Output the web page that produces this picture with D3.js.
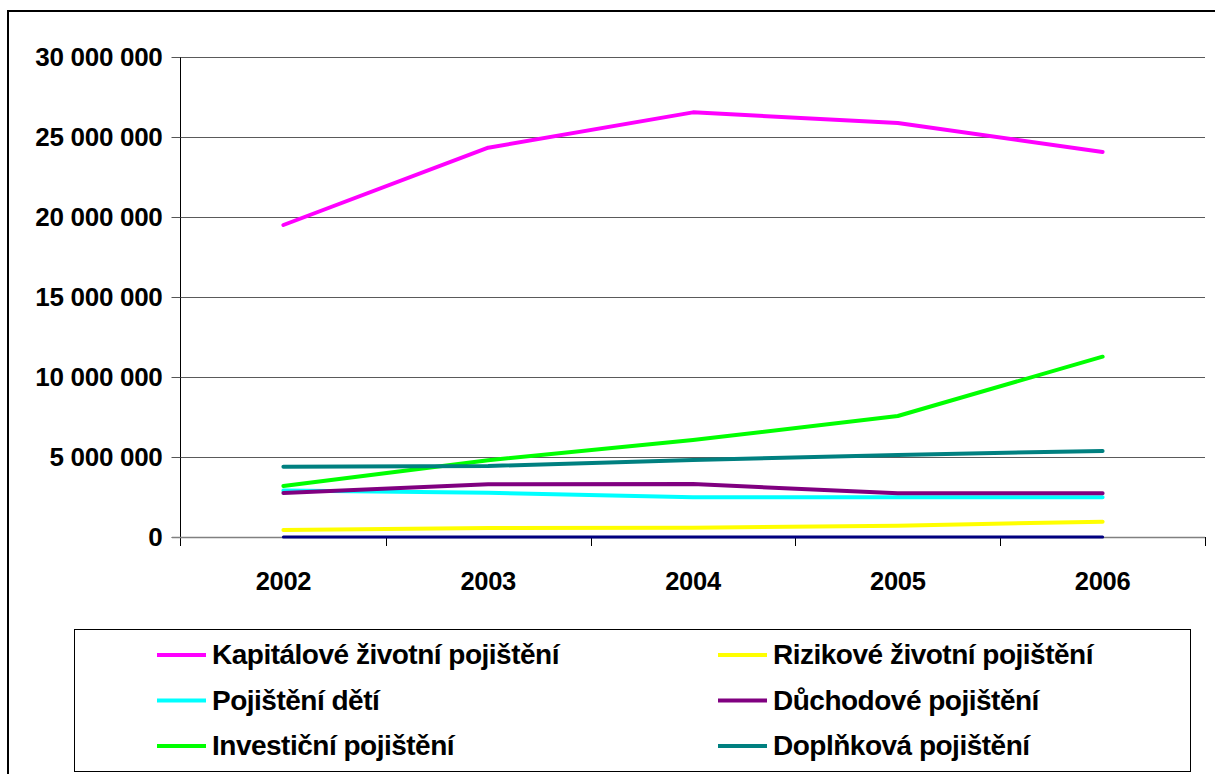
<!DOCTYPE html>
<html>
<head>
<meta charset="utf-8">
<script src="https://cdn.jsdelivr.net/npm/d3@7"></script>
<style>
  html, body { margin: 0; padding: 0; background: #fff; }
  svg { display: block; }
  text { font-family: "Liberation Sans", Arial, sans-serif; font-weight: bold; fill: #000; }
</style>
</head>
<body>
<svg id="chart" width="1215" height="774"></svg>
<script>
const years = ["2002", "2003", "2004", "2005", "2006"];
const seriesNames = [
  "Kapitálové životní pojištění",
  "Rizikové životní pojištění",
  "Pojištění dětí",
  "Důchodové pojištění",
  "Investiční pojištění",
  "Doplňková pojištění",
  ""
];
const kapitalove = [19500000, 24330000, 26540000, 25870000, 24060000];
const rizikove   = [440000, 560000, 580000, 710000, 960000];
const deti       = [2900000, 2770000, 2480000, 2480000, 2480000];
const duchodove  = [2750000, 3300000, 3310000, 2730000, 2730000];
const investicni = [3190000, 4800000, 6060000, 7560000, 11270000];
const doplnkova  = [4390000, 4440000, 4810000, 5130000, 5380000];
const ostatni    = [0, 0, 0, 0, 0];
const seriesColors = ["#FF00FF", "#FFFF00", "#00FFFF", "#800080", "#00FF00", "#008080", "#000080"];
const yTicks = [0, 5000000, 10000000, 15000000, 20000000, 25000000, 30000000];

const seriesValues = [kapitalove, rizikove, deti, duchodove, investicni, doplnkova, ostatni];

const svg = d3.select("#chart");

// outer chart frame
svg.append("rect")
  .attr("x", 8).attr("y", 11)
  .attr("width", 1400).attr("height", 1000)
  .attr("fill", "none").attr("stroke", "#000").attr("stroke-width", 2);

const x = d3.scaleBand().domain(years).range([181, 1205]).padding(0);
const y = d3.scaleLinear().domain([0, 30000000]).range([537, 57]);
const fmt = v => d3.format(",")(v).replace(/,/g, " ");

// gridlines
svg.append("g").selectAll("line")
  .data(yTicks.filter(d => d > 0))
  .join("line")
  .attr("x1", 181).attr("x2", 1205)
  .attr("y1", d => Math.round(y(d)) + 0.5).attr("y2", d => Math.round(y(d)) + 0.5)
  .attr("stroke", "#5a5a5a").attr("stroke-width", 1);

// y axis
const yAxis = d3.axisLeft(y).tickValues(yTicks).tickFormat(fmt).tickSizeInner(9).tickSizeOuter(0).tickPadding(9);
const gy = svg.append("g").attr("transform", "translate(180.5,0)").call(yAxis);
gy.select(".domain").attr("stroke", "#000").attr("d", "M0,57V546");
gy.selectAll(".tick line").attr("stroke", "#555");
gy.selectAll("text").style("font-size", "26px").style("font-family", "'Liberation Sans', Arial, sans-serif").style("font-weight", "bold").style("letter-spacing", "-0.3px").attr("fill", "#000");

// x axis baseline
svg.append("line")
  .attr("x1", 172).attr("x2", 1205)
  .attr("y1", y(0) + 0.5).attr("y2", y(0) + 0.5)
  .attr("stroke", "#808080").attr("stroke-width", 1.5);

// x axis ticks at category boundaries
const boundaries = years.map(d => x(d)).concat([x(years[years.length - 1]) + x.bandwidth()]).slice(1);
svg.append("g").selectAll("line")
  .data(boundaries)
  .join("line")
  .attr("x1", d => Math.round(d) + 0.5).attr("x2", d => Math.round(d) + 0.5)
  .attr("y1", y(0)).attr("y2", y(0) + 9)
  .attr("stroke", "#000").attr("stroke-width", 1);

// x labels
svg.append("g").selectAll("text")
  .data(years)
  .join("text")
  .attr("x", d => x(d) + x.bandwidth() / 2)
  .attr("y", 590)
  .attr("text-anchor", "middle")
  .style("font-size", "25.5px")
  .style("letter-spacing", "-0.3px")
  .text(d => d);

// lines
const line = d3.line()
  .x((d, i) => x(years[i]) + x.bandwidth() / 2)
  .y(d => y(d));

svg.append("g").selectAll("path")
  .data(seriesValues)
  .join("path")
  .attr("d", d => line(d))
  .attr("fill", "none")
  .attr("stroke", (d, i) => seriesColors[i])
  .attr("stroke-width", (d, i) => i === 6 ? 3 : 4)
  .attr("stroke-linejoin", "round")
  .attr("stroke-linecap", "round");

// legend
svg.append("rect")
  .attr("x", 74.5).attr("y", 629.5)
  .attr("width", 1116).attr("height", 142)
  .attr("fill", "#fff").attr("stroke", "#000").attr("stroke-width", 1);

const legendItems = seriesNames.slice(0, 6).map((name, i) => ({ name, color: seriesColors[i], col: i % 2, row: Math.floor(i / 2) }));
const colX = [157, 718];
const rowY = [664, 709.5, 755];
const lg = svg.append("g").selectAll("g")
  .data(legendItems)
  .join("g")
  .attr("transform", d => `translate(${colX[d.col]},${rowY[d.row]})`);
lg.append("line")
  .attr("x1", 0).attr("x2", 49)
  .attr("y1", -9).attr("y2", -9)
  .attr("stroke", d => d.color).attr("stroke-width", 4);
lg.append("text")
  .attr("x", 55).attr("y", 0)
  .style("font-size", "28px")
  .style("letter-spacing", "-0.5px")
  .text(d => d.name);
</script>
</body>
</html>
